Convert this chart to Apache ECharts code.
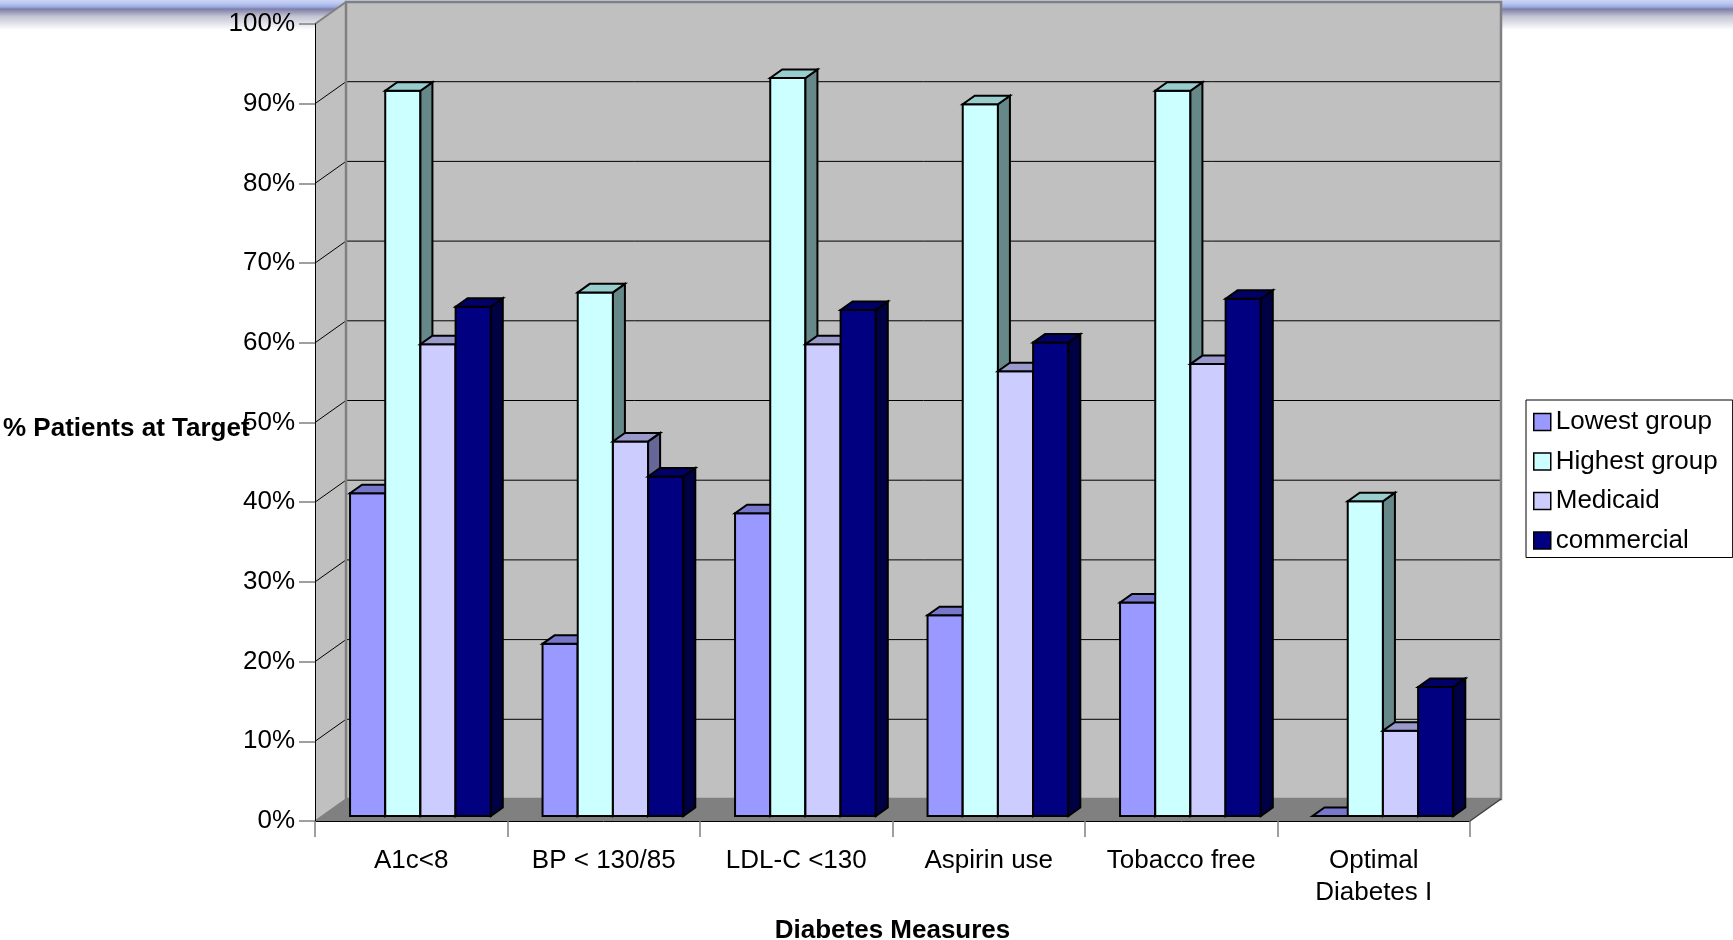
<!DOCTYPE html>
<html>
<head>
<meta charset="utf-8">
<script src="https://cdn.jsdelivr.net/npm/echarts@6/dist/echarts.min.js"></script>
<style>
  html, body { margin: 0; padding: 0; background: #ffffff; }
  #chart { width: 1733px; height: 940px; }
</style>
</head>
<body>
<div id="chart"></div>
<script>
// Diabetes measures: share of patients at target, by group
const categories = ['A1c<8', 'BP < 130/85', 'LDL-C <130', 'Aspirin use', 'Tobacco free', 'Optimal\nDiabetes I'];
const seriesNames = ['Lowest group', 'Highest group', 'Medicaid', 'commercial'];
const lowestGroup  = [40.5, 21.6, 38.0, 25.2, 26.8, 0];
const highestGroup = [91.0, 65.7, 92.6, 89.3, 91.0, 39.5];
const medicaid     = [59.2, 47.0, 59.2, 55.8, 56.7, 10.7];
const commercial   = [63.9, 42.6, 63.5, 59.4, 64.9, 16.2];
const yTicks = [0, 10, 20, 30, 40, 50, 60, 70, 80, 90, 100];

const seriesValues = [lowestGroup, highestGroup, medicaid, commercial];

// face colours for each series: front, top, side
const palette = [
  { front: '#9999FF', top: '#7777CC', side: '#6666AA' },
  { front: '#CCFFFF', top: '#99CCCC', side: '#668888' },
  { front: '#CCCCFF', top: '#9999CC', side: '#666699' },
  { front: '#000080', top: '#000066', side: '#000044' }
];

// pseudo-3D projection of the depth axis (pixels)
const DX = 31, DY = -22;
const F0 = 0.227;        // depth fraction of the bars' front faces
const FD = 0.387;        // depth fraction taken by each bar
const BAR_FRAC = 0.1828; // bar width as fraction of the category band
const GROUP_LEFT = 0.1455;

const FONT = '"Liberation Sans", Arial, Helvetica, sans-serif';

function renderWalls(params, api) {
  const cs = params.coordSys;
  const L = cs.x, R = cs.x + cs.width, T = cs.y, B = cs.y + cs.height;
  const children = [];
  // left side wall
  children.push({ type: 'polygon', shape: { points: [[L, T], [L + DX, T + DY], [L + DX, B + DY], [L, B]] },
    style: { fill: '#C0C0C0', stroke: null } });
  // back wall
  children.push({ type: 'rect', shape: { x: L + DX, y: T + DY, width: R - L, height: B - T },
    style: { fill: '#C0C0C0', stroke: null } });
  // floor
  children.push({ type: 'polygon', shape: { points: [[L, B], [L + DX, B + DY], [R + DX, B + DY], [R, B]] },
    style: { fill: '#808080', stroke: null } });
  // gridlines across the side wall and back wall
  yTicks.forEach(function (v) {
    if (v === yTicks[0] || v === yTicks[yTicks.length - 1]) return;
    const y = api.coord([0, v])[1];
    children.push({ type: 'polyline', shape: { points: [[L, y], [L + DX, y + DY], [R + DX, y + DY]] },
      style: { stroke: '#000000', lineWidth: 1, fill: null } });
  });
  // wall edges
  children.push({ type: 'rect', shape: { x: L + DX, y: T + DY, width: R - L, height: B - T },
    style: { fill: null, stroke: '#808080', lineWidth: 2.5 } });
  children.push({ type: 'line', shape: { x1: L, y1: T, x2: L + DX, y2: T + DY },
    style: { stroke: '#808080', lineWidth: 2 } });
  children.push({ type: 'line', shape: { x1: L, y1: B, x2: L + DX, y2: B + DY },
    style: { stroke: '#808080', lineWidth: 1.5 } });
  children.push({ type: 'line', shape: { x1: R, y1: B, x2: R + DX, y2: B + DY },
    style: { stroke: '#404040', lineWidth: 1.5 } });
  return { type: 'group', children: children };
}

function barRenderer(s) {
  const col = palette[s];
  return function (params, api) {
    const cat = api.value(0), v = api.value(1);
    const base = api.coord([cat, 0]);
    const tip = api.coord([cat, v]);
    const band = api.size([1, 0])[0];
    const bw = band * BAR_FRAC;
    const x0 = base[0] - band / 2 + band * GROUP_LEFT + s * bw + DX * F0;
    const x1 = x0 + bw;
    const yb = base[1] + DY * F0;
    const yt = tip[1] + DY * F0;
    const ddx = DX * FD, ddy = DY * FD;
    const edge = { stroke: '#000000', lineWidth: 2, lineJoin: 'miter' };
    return {
      type: 'group',
      children: [
        { type: 'polygon', shape: { points: [[x0, yb], [x0, yt], [x1, yt], [x1, yb]] },
          style: Object.assign({ fill: col.front }, edge) },
        { type: 'polygon', shape: { points: [[x1, yt], [x1 + ddx, yt + ddy], [x1 + ddx, yb + ddy], [x1, yb]] },
          style: Object.assign({ fill: col.side }, edge) },
        { type: 'polygon', shape: { points: [[x0, yt], [x1, yt], [x1 + ddx, yt + ddy], [x0 + ddx, yt + ddy]] },
          style: Object.assign({ fill: col.top }, edge) }
      ]
    };
  };
}

const barSeries = seriesNames.map(function (name, s) {
  return {
    name: name,
    type: 'custom',
    z: 3,
    clip: false,
    renderItem: barRenderer(s),
    itemStyle: { color: palette[s].front, borderColor: '#000', borderWidth: 1.5 },
    encode: { x: 0, y: 1 },
    data: seriesValues[s].map(function (v, i) { return [i, v]; })
  };
});

const chart = echarts.init(document.getElementById('chart'), null, { renderer: 'canvas' });

chart.setOption({
  animation: false,
  backgroundColor: '#ffffff',
  textStyle: { fontFamily: FONT },
  graphic: [
    {
      type: 'rect', z: 0, left: 0, top: 0,
      shape: { width: 1733, height: 30 },
      style: {
        fill: new echarts.graphic.LinearGradient(0, 0, 0, 1, [
          { offset: 0, color: '#cbd5f5' },
          { offset: 0.12, color: '#b9c6f0' },
          { offset: 0.24, color: '#9aa8e0' },
          { offset: 0.3, color: '#7c7ea6' },
          { offset: 0.55, color: '#c4c4d4' },
          { offset: 1, color: '#ffffff' }
        ])
      }
    },
    {
      type: 'text', z: 10, left: 3, top: 416,
      style: { text: '% Patients at Target', font: 'bold 26px ' + FONT, fill: '#000000' }
    }
  ],
  legend: {
    orient: 'vertical',
    left: 1526,
    top: 400,
    backgroundColor: '#ffffff',
    borderColor: '#000000',
    borderWidth: 1,
    padding: [9, 15, 4, 7],
    itemWidth: 17,
    itemHeight: 17,
    itemGap: 13.5,
    selectedMode: false,
    textStyle: { fontFamily: FONT, fontSize: 26, color: '#000000', lineHeight: 26 },
    data: seriesNames.map(function (name, s) {
      return { name: name, icon: 'rect',
        itemStyle: { color: palette[s].front, borderColor: '#000000', borderWidth: 1.5 } };
    })
  },
  grid: { left: 315, right: 263, top: 24, bottom: 119, containLabel: false, outerBoundsMode: 'none' },
  xAxis: {
    type: 'category',
    data: categories,
    z: 5,
    name: 'Diabetes Measures',
    nameLocation: 'middle',
    nameGap: 97,
    nameTextStyle: { fontFamily: FONT, fontSize: 26, fontWeight: 'bold', color: '#000000' },
    axisLine: { show: true, lineStyle: { color: '#000000', width: 1 } },
    axisTick: { show: true, inside: false, length: 16, lineStyle: { color: '#808080', width: 1.5 } },
    axisLabel: { interval: 0, margin: 24, fontFamily: FONT, fontSize: 26, color: '#000000', lineHeight: 32 },
    splitLine: { show: false }
  },
  yAxis: {
    type: 'value',
    min: 0,
    max: 100,
    interval: 10,
    z: 5,
    axisLine: { show: true, lineStyle: { color: '#000000', width: 1 } },
    axisTick: { show: true, inside: false, length: 16, lineStyle: { color: '#808080', width: 1.5 } },
    axisLabel: { margin: 20, fontFamily: FONT, fontSize: 26, color: '#000000', formatter: '{value}%' },
    splitLine: { show: false }
  },
  series: [
    {
      name: 'walls',
      type: 'custom',
      z: 1,
      clip: false,
      silent: true,
      renderItem: renderWalls,
      encode: { x: 0, y: 1 },
      data: [[0, 0]]
    }
  ].concat(barSeries)
});
</script>
</body>
</html>
